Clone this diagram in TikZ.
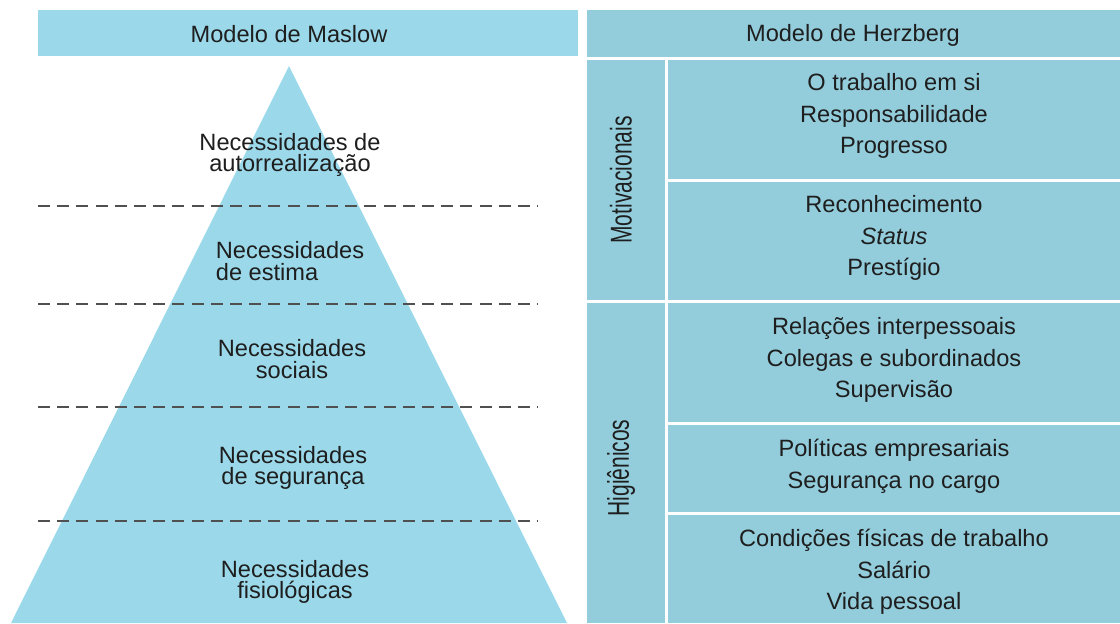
\documentclass[tikz,border=0pt]{standalone}
\usepackage{fontspec}
\setmainfont{Liberation Sans}
\usepackage{graphicx}
\definecolor{pyrblue}{HTML}{9BD9EA}
\definecolor{cellblue}{HTML}{93CDDC}
\definecolor{dashgray}{HTML}{505050}
\definecolor{txt}{HTML}{1E1E1E}
\tikzset{
  level/.style={align=center, text=txt, font=\fontsize{11.8}{10.6}\selectfont, inner sep=0pt},
  item/.style={align=center, text=txt, font=\fontsize{11.8}{15.8}\selectfont, inner sep=0pt},
  side/.style={rotate=90, text=txt, inner sep=0pt, font=\fontsize{15}{15}\selectfont},
  divide/.style={dashgray, line width=1pt, dash pattern=on 6pt off 3.6pt},
}
\begin{document}
\begin{tikzpicture}[x=0.5pt,y=-0.5pt]
	\useasboundingbox (0,0) rectangle (1120,623);
	%Cabeçalhos
	\fill[pyrblue] (38,10) rectangle (578,56);
	\fill[cellblue] (587,10) rectangle (1120,57);
	\node[item] (maslow) at (289,34) {Modelo de Maslow};
	\node[item] (herzberg) at (853,35) {Modelo de Herzberg};
	%Pirâmide de Maslow
	\fill[pyrblue] (11,623) -- (289,66) -- (567,623) -- cycle;
	\foreach \y in {206,304,407,521}
	\draw[divide] (38,\y) -- (538,\y);
	\node[level] (auto) at (290,155) {Necessidades de\\autorrealização};
	\node[level, align=left] (estima) at (290,261) {Necessidades\\de estima};
	\node[level] (social) at (292,359) {Necessidades\\sociais};
	\node[level] (seguranca) at (293,468) {Necessidades\\de segurança};
	\node[level] (fisio) at (295,582) {Necessidades\\fisiológicas};
	%Tabela de Herzberg
	\fill[cellblue] (587,60) rectangle (665,300);
	\fill[cellblue] (587,303) rectangle (665,623);
	\foreach \t/\b in {60/179,182/300,303/422,425/512,515/623}
	\fill[cellblue] (668,\t) rectangle (1120,\b);
	\node[side] (motiv) at (621,180) {\scalebox{0.7}[1]{Motivacionais}};
	\node[side] (higien) at (621,468) {\scalebox{0.7}[1]{Higiênicos}};
	\node[item] (trabalho) at (894,116) {O trabalho em si\\Responsabilidade\\Progresso};
	\node[item] (status) at (894,238) {Reconhecimento\\\textit{Status}\\Prestígio};
	\node[item] (relacoes) at (894,360) {Relações interpessoais\\Colegas e subordinados\\Supervisão};
	\node[item] (politicas) at (894,466) {Políticas empresariais\\Segurança no cargo};
	\node[item] (condicoes) at (894,572) {Condições físicas de trabalho\\Salário\\Vida pessoal};
\end{tikzpicture}
\end{document}
